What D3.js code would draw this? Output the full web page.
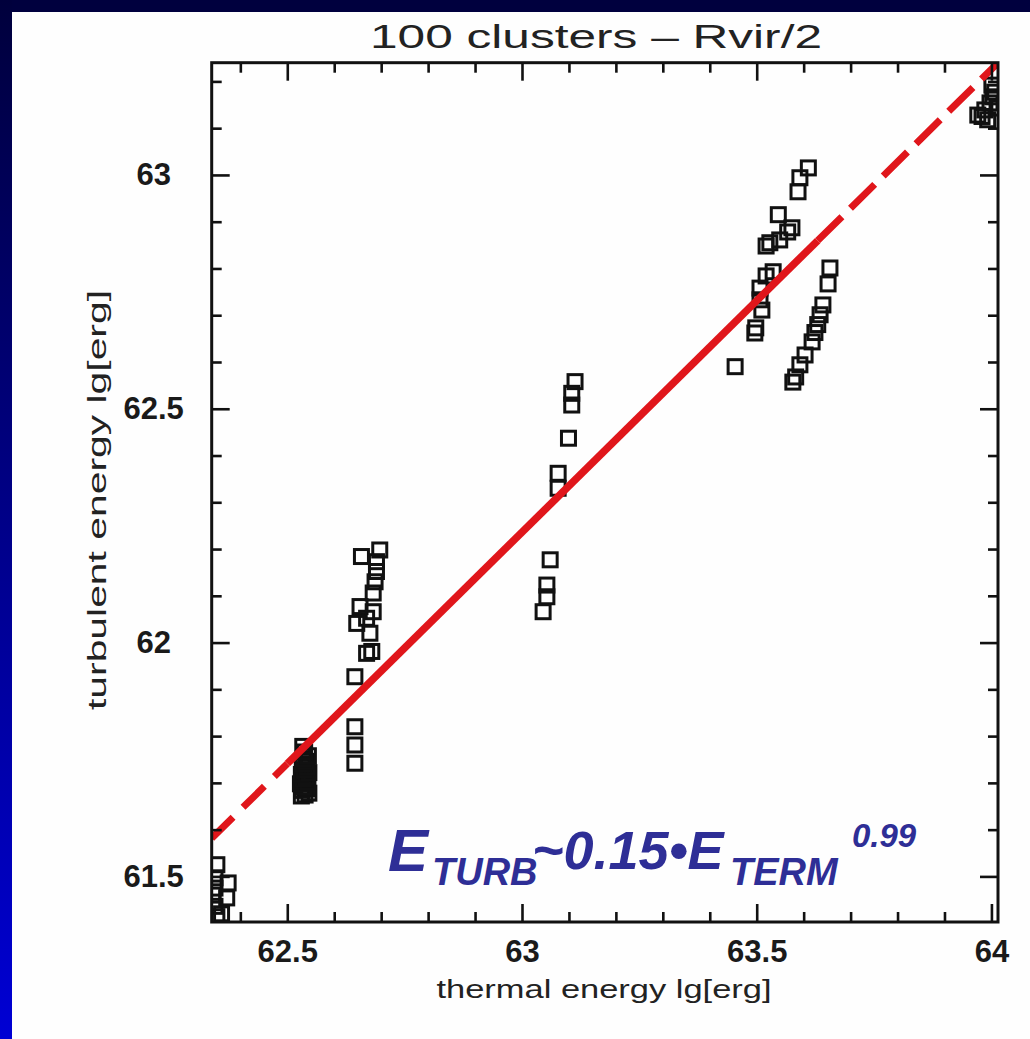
<!DOCTYPE html>
<html><head><meta charset="utf-8">
<script src="https://cdnjs.cloudflare.com/ajax/libs/d3/7.8.5/d3.min.js"></script>
<style>html,body{margin:0;padding:0;background:#fff;} svg{display:block;}</style>
</head><body><svg id="chart" width="1030" height="1039"></svg>
<script>
// ---------- data ----------
const title = "100 clusters \u2013 Rvir/2";
const xLabel = "thermal energy lg[erg]";
const yLabel = "turbulent energy lg[erg]";
const xMajorTicks = [62.5, 63, 63.5, 64];
const xTickLabels = ["62.5", "63", "63.5", "64"];
const yMajorTicks = [61.5, 62, 62.5, 63];
const yTickLabels = ["61.5", "62", "62.5", "63"];
const xMinorTicks = [62.4, 62.6, 62.7, 62.8, 62.9, 63.1, 63.2, 63.3, 63.4, 63.6, 63.7, 63.8, 63.9];
const yMinorTicks = [61.6, 61.7, 61.8, 61.9, 62.1, 62.2, 62.3, 62.4, 62.6, 62.7, 62.8, 62.9, 63.1, 63.2];
const xDomain = [62.339, 64.014];
const yDomain = [61.4025, 63.24];

// thermal energy (x) and turbulent energy (y), lg[erg]
const thermal = [
  // group near 62.35
  62.350, 62.346, 62.374, 62.346, 62.371, 62.346, 62.350, 62.342, 62.360,
  // group near 62.53 (dense block)
  62.530, 62.538, 62.546, 62.532, 62.542, 62.536, 62.528, 62.544, 62.534, 62.540,
  62.530, 62.546, 62.536, 62.542, 62.532, 62.540, 62.534, 62.545, 62.537, 62.533,
  // group near 62.67
  62.697, 62.658, 62.690, 62.690, 62.687, 62.683, 62.655, 62.683, 62.669, 62.648, 62.676, 62.680, 62.669, 62.644, 62.644, 62.644, 62.644,
  // group near 63.08
  63.113, 63.106, 63.106, 63.099, 63.077, 63.077, 63.060, 63.053, 63.053, 63.045,
  // group near 63.55 (upper branch)
  63.610, 63.592, 63.588, 63.546, 63.575, 63.566, 63.549, 63.528, 63.520, 63.520, 63.535, 63.507, 63.507, 63.511, 63.498, 63.496, 63.454,
  // group near 63.62 (lower branch)
  63.656, 63.652, 63.641, 63.635, 63.630, 63.624, 63.618, 63.603, 63.592, 63.583, 63.577,
  // group near 64
  63.971, 63.986, 63.997, 64.003, 64.007, 63.992, 64.012, 64.001, 63.980
];
const turbulent = [
  61.525, 61.497, 61.486, 61.475, 61.454, 61.436, 61.414, 61.460, 61.420,
  61.672, 61.674, 61.678, 61.684, 61.688, 61.692, 61.698, 61.702, 61.708, 61.712,
  61.718, 61.722, 61.728, 61.734, 61.740, 61.746, 61.752, 61.758, 61.766, 61.778,
  62.198, 62.184, 62.173, 62.152, 62.130, 62.106, 62.077, 62.066, 62.052, 62.041, 62.020, 61.981, 61.977, 61.927, 61.820, 61.781, 61.742,
  62.558, 62.533, 62.508, 62.437, 62.362, 62.330, 62.177, 62.123, 62.098, 62.066,
  63.015, 62.994, 62.964, 62.915, 62.887, 62.878, 62.861, 62.855, 62.848, 62.784, 62.793, 62.758, 62.733, 62.711, 62.673, 62.662, 62.590,
  62.801, 62.767, 62.722, 62.701, 62.680, 62.663, 62.643, 62.615, 62.594, 62.568, 62.557,
  63.128, 63.139, 63.154, 63.167, 63.177, 63.118, 63.143, 63.192, 63.125
];
const fitSlope = 0.99;
const fitIntercept = -0.134;
const fitSolidRange = [62.5, 63.63];
const formulaParts = ["E", "TURB", "~0.15\u2022E", "TERM", "0.99"];

// ---------- layout ----------
const W = 1030, H = 1039;
const plot = {left: 211.7, right: 998, top: 62.7, bottom: 922};
const svg = d3.select("#chart");

// background border
const defs = svg.append("defs");
const grad = defs.append("linearGradient").attr("id", "leftGrad")
  .attr("x1", 0).attr("y1", 0).attr("x2", 0).attr("y2", 1);
grad.append("stop").attr("offset", "0%").attr("stop-color", "#00003c");
grad.append("stop").attr("offset", "100%").attr("stop-color", "#0000d4");
svg.append("rect").attr("x", 0).attr("y", 0).attr("width", W).attr("height", H).attr("fill", "#fefefe");
svg.append("rect").attr("x", 0).attr("y", 0).attr("width", W).attr("height", 12).attr("fill", "#00003e");
svg.append("rect").attr("x", 0).attr("y", 0).attr("width", 12).attr("height", H).attr("fill", "url(#leftGrad)");

const x = d3.scaleLinear().domain(xDomain).range([plot.left, plot.right]);
const y = d3.scaleLinear().domain(yDomain).range([plot.bottom, plot.top]);

defs.append("clipPath").attr("id", "plotClip").append("rect")
  .attr("x", plot.left).attr("y", plot.top)
  .attr("width", plot.right - plot.left).attr("height", plot.bottom - plot.top);

// points
const pts = thermal.map((t, i) => ({t, u: turbulent[i]}));
const S = 14;
svg.append("g").attr("clip-path", "url(#plotClip)")
  .selectAll("rect").data(pts).join("rect")
  .attr("x", d => x(d.t) - S / 2).attr("y", d => y(d.u) - S / 2)
  .attr("width", S).attr("height", S)
  .attr("fill", "none").attr("stroke", "#111").attr("stroke-width", 3);

// fit line
const fit = v => fitSlope * v + fitIntercept;
const lineG = svg.append("g").attr("clip-path", "url(#plotClip)");
const line = d3.line().x(d => x(d)).y(d => y(fit(d)));
lineG.append("path").attr("d", line([xDomain[0], fitSolidRange[0]]))
  .attr("stroke", "#e0161b").attr("stroke-width", 7).attr("fill", "none")
  .attr("stroke-dasharray", "30,14");
lineG.append("path").attr("d", line([fitSolidRange[1], xDomain[1] + 0.02]))
  .attr("stroke", "#e0161b").attr("stroke-width", 7).attr("fill", "none")
  .attr("stroke-dasharray", "34,12");
lineG.append("path").attr("d", line(fitSolidRange))
  .attr("stroke", "#e0161b").attr("stroke-width", 7.5).attr("fill", "none");

// axes (ticks inward on all four sides)
function styleAxis(g) {
  g.select(".domain").remove();
  g.selectAll(".tick line").attr("stroke", "#111").attr("stroke-width", 2.6);
  g.selectAll("text").attr("font-family", "Liberation Sans, Arial, sans-serif")
    .attr("font-weight", "bold").attr("font-size", 31).attr("fill", "#1a1a1a");
}
const bottomMaj = svg.append("g").attr("transform", `translate(0,${plot.bottom})`)
  .call(d3.axisBottom(x).tickValues(xMajorTicks).tickSize(-18).tickPadding(18)
    .tickFormat((d, i) => xTickLabels[i]));
styleAxis(bottomMaj);
const bottomMin = svg.append("g").attr("transform", `translate(0,${plot.bottom})`)
  .call(d3.axisBottom(x).tickValues(xMinorTicks).tickSize(-10).tickFormat(""));
styleAxis(bottomMin);
const topMaj = svg.append("g").attr("transform", `translate(0,${plot.top})`)
  .call(d3.axisTop(x).tickValues(xMajorTicks).tickSize(-18).tickFormat(""));
styleAxis(topMaj);
const topMin = svg.append("g").attr("transform", `translate(0,${plot.top})`)
  .call(d3.axisTop(x).tickValues(xMinorTicks).tickSize(-10).tickFormat(""));
styleAxis(topMin);
const leftMaj = svg.append("g").attr("transform", `translate(${plot.left},0)`)
  .call(d3.axisLeft(y).tickValues(yMajorTicks).tickSize(-18).tickPadding(58)
    .tickFormat((d, i) => yTickLabels[i]));
styleAxis(leftMaj);
leftMaj.selectAll("text").attr("text-anchor", "middle");
const leftMin = svg.append("g").attr("transform", `translate(${plot.left},0)`)
  .call(d3.axisLeft(y).tickValues(yMinorTicks).tickSize(-10).tickFormat(""));
styleAxis(leftMin);
const rightMaj = svg.append("g").attr("transform", `translate(${plot.right},0)`)
  .call(d3.axisRight(y).tickValues(yMajorTicks).tickSize(-18).tickFormat(""));
styleAxis(rightMaj);
const rightMin = svg.append("g").attr("transform", `translate(${plot.right},0)`)
  .call(d3.axisRight(y).tickValues(yMinorTicks).tickSize(-10).tickFormat(""));
styleAxis(rightMin);

// frame
svg.append("rect").attr("x", plot.left).attr("y", plot.top)
  .attr("width", plot.right - plot.left).attr("height", plot.bottom - plot.top)
  .attr("fill", "none").attr("stroke", "#111").attr("stroke-width", 3);

// title & axis labels
svg.append("text").attr("x", 596).attr("y", 48).attr("text-anchor", "middle")
  .attr("font-family", "Liberation Sans, Arial, sans-serif").attr("font-size", 33)
  .attr("fill", "#222").attr("textLength", 452).attr("lengthAdjust", "spacingAndGlyphs")
  .text(title);
svg.append("text").attr("x", 604).attr("y", 998).attr("text-anchor", "middle")
  .attr("font-family", "Liberation Sans, Arial, sans-serif").attr("font-size", 25)
  .attr("fill", "#222").attr("textLength", 335).attr("lengthAdjust", "spacingAndGlyphs")
  .text(xLabel);
svg.append("text").attr("transform", "translate(106,500) rotate(-90)").attr("text-anchor", "middle")
  .attr("font-family", "Liberation Sans, Arial, sans-serif").attr("font-size", 26)
  .attr("fill", "#222").attr("textLength", 420).attr("lengthAdjust", "spacingAndGlyphs")
  .text(yLabel);

// formula
const ft = svg.append("text").attr("font-family", "Liberation Sans, Arial, sans-serif")
  .attr("font-weight", "bold").attr("font-style", "italic").attr("fill", "#2e2e96");
const fParts = [
  {t: formulaParts[0], x: 388, y: 871, s: 60},
  {t: formulaParts[1], x: 432, y: 885, s: 38},
  {t: formulaParts[2], x: 532, y: 869, s: 54},
  {t: formulaParts[3], x: 730, y: 885, s: 38},
  {t: formulaParts[4], x: 852, y: 847, s: 33}
];
ft.selectAll("tspan").data(fParts).join("tspan")
  .attr("x", d => d.x).attr("y", d => d.y).attr("font-size", d => d.s).text(d => d.t);
</script></body></html>
